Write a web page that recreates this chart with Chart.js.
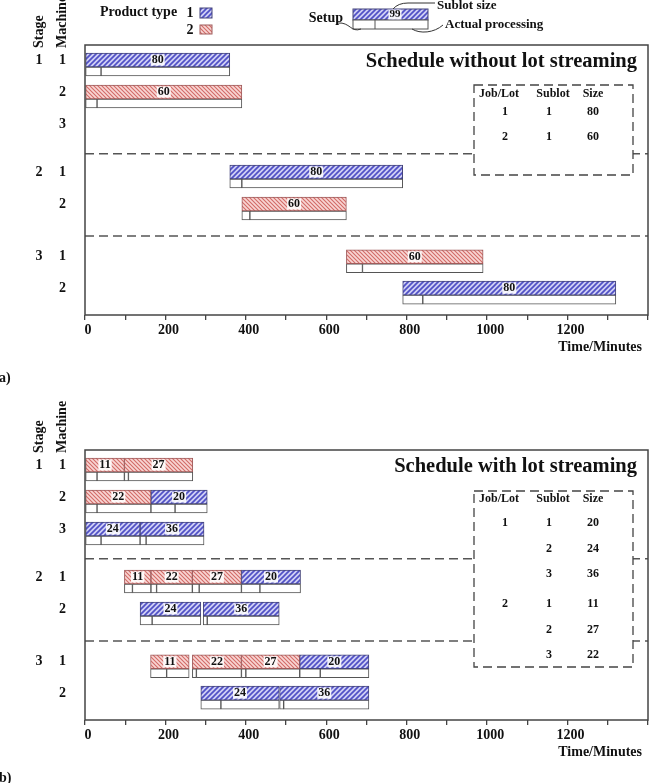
<!DOCTYPE html>
<html>
<head>
<meta charset="utf-8">
<script src="https://cdn.jsdelivr.net/npm/chart.js@4.4.0/dist/chart.umd.min.js"></script>
<style>
  body { margin: 0; background: #fff; }
  #wrap { position: relative; width: 658px; height: 783px; overflow: hidden; }
  .panel { position: absolute; left: 0; width: 658px; }
</style>
</head>
<body>
<div id="wrap">
  <div class="panel" style="top:0;height:390px"><canvas id="chartA"></canvas></div>
  <div class="panel" style="top:390px;height:393px"><canvas id="chartB"></canvas></div>
</div>
<script>
// rows (stage / machine) and where they sit on the y scale
const rowMachine = ['1', '2', '3', '1', '2', '1', '2'];
const rowStage = ['1', '', '', '2', '', '3', ''];
const rowPos = [0.47, 1.47, 2.47, 3.97, 4.97, 6.62, 7.6];
const stageBreaks = [3.4, 5.97];
const Y_MAX = 8.44;

const xTicksLabeled = [0, 200, 400, 600, 800, 1000, 1200];

// a) schedule without lot streaming
const aRow = [0, 1, 3, 4, 5, 6];
const aProduct = [1, 2, 1, 2, 2, 1];
const aSize = [80, 60, 80, 60, 60, 80];
const aStart = [0, 0, 360, 390, 650, 790];
const aSetupEnd = [40, 30, 390, 410, 690, 840];
const aEnd = [360, 390, 790, 650, 990, 1320];

// b) schedule with lot streaming
const bRow = [0, 0, 1, 1, 2, 2, 3, 3, 3, 3, 4, 4, 5, 5, 5, 5, 6, 6];
const bProduct = [2, 2, 2, 1, 1, 1, 2, 2, 2, 1, 1, 1, 2, 2, 2, 1, 1, 1];
const bSize = [11, 27, 22, 20, 24, 36, 11, 22, 27, 20, 24, 36, 11, 22, 27, 20, 24, 36];
const bStart = [0, 98, 0, 164, 0, 137, 98, 164, 267, 389, 137, 294, 163, 267, 389, 534, 288, 484];
const bSetupEnd = [30, 108, 30, 224, 40, 152, 118, 178, 284, 435, 167, 304, 203, 277, 400, 585, 338, 494];
const bEnd = [98, 268, 164, 304, 137, 296, 164, 267, 389, 536, 288, 483, 259, 389, 534, 706, 483, 706];

// sublot tables
const aTableJob = ['1', '2'];
const aTableSublot = ['1', '1'];
const aTableSize = ['80', '60'];
const bTableJob = ['1', '', '', '2', '', ''];
const bTableSublot = ['1', '2', '3', '1', '2', '3'];
const bTableSize = ['20', '24', '36', '11', '27', '22'];

const serif = '"Liberation Serif", "Times New Roman", serif';
const INK = '#111';
const FRAME = '#444';
const PLOT_H = 270;
const HATCH_PX = 14, WHITE_PX = 9;
const WHITE_SHIFT = (HATCH_PX / 2 + WHITE_PX / 2) / (PLOT_H / Y_MAX);

function hatch(bg, fg, size, dir, lw) {
  const c = document.createElement('canvas');
  c.width = size; c.height = size;
  const g = c.getContext('2d');
  g.fillStyle = bg; g.fillRect(0, 0, size, size);
  g.strokeStyle = fg; g.lineWidth = lw;
  g.beginPath();
  if (dir > 0) {
    g.moveTo(0, size); g.lineTo(size, 0);
    g.moveTo(-1, 1); g.lineTo(1, -1);
    g.moveTo(size - 1, size + 1); g.lineTo(size + 1, size - 1);
  } else {
    g.moveTo(0, 0); g.lineTo(size, size);
    g.moveTo(-1, size - 1); g.lineTo(1, size + 1);
    g.moveTo(size - 1, -1); g.lineTo(size + 1, 1);
  }
  g.stroke();
  return c.getContext('2d').createPattern(c, 'repeat');
}

const fills = { 1: hatch('#d0d0f4', '#5050c6', 5, 1, 1.7), 2: hatch('#f8d6d4', '#d26b67', 4, -1, 1.1) };
const edges = { 1: '#44447a', 2: '#a05c5c' };

function font(size) { return 'bold ' + size + 'px ' + serif; }

function label(ctx, text, x, y, size, align, bg) {
  ctx.font = font(size);
  ctx.textAlign = align || 'center';
  ctx.textBaseline = 'middle';
  if (bg) {
    const w = ctx.measureText(text).width;
    ctx.fillStyle = 'rgba(255,255,255,0.9)';
    ctx.fillRect(x - w / 2 - 1, y - size / 2 + 0.5, w + 2, size - 1);
  }
  ctx.fillStyle = INK;
  ctx.fillText(text, x, y);
}

function drawTable(ctx, t) {
  ctx.save();
  ctx.fillStyle = '#fff';
  ctx.fillRect(t.left, t.top, t.right - t.left, t.bottom - t.top);
  ctx.setLineDash([9, 5]);
  ctx.strokeStyle = FRAME; ctx.lineWidth = 1.3;
  ctx.strokeRect(t.left, t.top, t.right - t.left, t.bottom - t.top);
  ctx.setLineDash([]);
  label(ctx, 'Job/Lot', 499, t.headY, 12);
  label(ctx, 'Sublot', 553, t.headY, 12);
  label(ctx, 'Size', 593, t.headY, 12);
  t.job.forEach((j, i) => {
    const y = t.rowY[i];
    if (j) label(ctx, j, 505, y, 12);
    label(ctx, t.sublot[i], 549, y, 12);
    label(ctx, t.size[i], 593, y, 12);
  });
  ctx.restore();
}

function drawKey(ctx) {
  ctx.save();
  label(ctx, 'Product type', 100, 12, 14, 'left');
  label(ctx, '1', 190, 13, 14);
  label(ctx, '2', 190, 30, 14);
  ctx.lineWidth = 1;
  [[1, 8, 10], [2, 25, 9]].forEach(([p, y, h]) => {
    ctx.fillStyle = fills[p]; ctx.fillRect(200, y, 12, h);
    ctx.strokeStyle = edges[p]; ctx.strokeRect(200, y, 12, h);
  });
  // sample sublot
  ctx.fillStyle = fills[1]; ctx.fillRect(353, 9, 75, 11);
  ctx.strokeStyle = edges[1]; ctx.strokeRect(353, 9, 75, 11);
  ctx.fillStyle = '#fff'; ctx.fillRect(353, 20, 75, 9);
  ctx.strokeStyle = '#555'; ctx.strokeRect(353, 20, 75, 9);
  ctx.beginPath(); ctx.moveTo(375, 20); ctx.lineTo(375, 29); ctx.stroke();
  label(ctx, '99', 395, 14.5, 11, 'center', true);
  label(ctx, 'Setup', 343, 18, 14, 'right');
  label(ctx, 'Sublot size', 437, 6, 13, 'left');
  label(ctx, 'Actual processing', 445, 25, 13, 'left');
  ctx.strokeStyle = '#333'; ctx.lineWidth = 1;
  ctx.beginPath();
  ctx.moveTo(393, 9); ctx.quadraticCurveTo(398, 3, 408, 3); ctx.lineTo(435, 3);
  ctx.moveTo(338, 23); ctx.bezierCurveTo(350, 22, 351, 33, 361, 29);
  ctx.moveTo(412, 29); ctx.bezierCurveTo(420, 34, 434, 33, 443, 25);
  ctx.stroke();
  ctx.restore();
}

function makeChart(id, p) {
  const bars = [], boxes = [];
  p.row.forEach((r, i) => {
    const y = rowPos[r];
    bars.push({ x: [p.start[i], p.end[i]], y: y });
    boxes.push({ x: [p.start[i], p.setupEnd[i]], y: y + WHITE_SHIFT });
    boxes.push({ x: [p.setupEnd[i], p.end[i]], y: y + WHITE_SHIFT });
  });

  const gantt = {
    id: 'gantt',
    beforeDatasetsDraw(chart) {
      const ctx = chart.ctx, a = chart.chartArea, ys = chart.scales.y;
      ctx.save();
      ctx.setLineDash([9, 5]);
      ctx.strokeStyle = '#555'; ctx.lineWidth = 1.3;
      stageBreaks.forEach(v => {
        const py = ys.getPixelForValue(v);
        ctx.beginPath(); ctx.moveTo(a.left, py); ctx.lineTo(a.right, py); ctx.stroke();
      });
      ctx.restore();
    },
    afterDatasetsDraw(chart) {
      const ctx = chart.ctx, a = chart.chartArea, ys = chart.scales.y;
      ctx.save();
      // sublot sizes
      chart.getDatasetMeta(0).data.forEach((el, i) => {
        label(ctx, String(p.size[i]), (el.x + el.base) / 2, el.y, 12, 'center', true);
      });
      // frame
      ctx.strokeStyle = FRAME; ctx.lineWidth = 1.5;
      ctx.strokeRect(a.left, a.top, a.right - a.left, a.bottom - a.top);
      drawTable(ctx, p.table);
      // stage numbers and axis headings
      rowStage.forEach((s, i) => { if (s) label(ctx, s, 39, ys.getPixelForValue(rowPos[i]), 14); });
      [['Stage', 39], ['Machine', 62]].forEach(([t, x]) => {
        ctx.save();
        ctx.translate(x, a.top + 3);
        ctx.rotate(-Math.PI / 2);
        label(ctx, t, 0, 0, 14, 'left');
        ctx.restore();
      });
      label(ctx, p.title, a.right - 11, a.top + 17, 20.5, 'right');
      label(ctx, 'Time/Minutes', 642, a.bottom + 32, 14, 'right');
      label(ctx, p.tag, -1, p.tagY, 14, 'left');
      if (p.key) drawKey(ctx);
      ctx.restore();
    }
  };

  return new Chart(document.getElementById(id), {
    type: 'bar',
    data: {
      datasets: [{
        data: bars,
        grouped: false,
        barThickness: HATCH_PX,
        borderWidth: 1,
        borderSkipped: false,
        backgroundColor: c => fills[p.product[c.dataIndex]],
        borderColor: c => edges[p.product[c.dataIndex]]
      }, {
        data: boxes,
        grouped: false,
        barThickness: WHITE_PX,
        borderWidth: 1,
        borderSkipped: false,
        backgroundColor: '#fff',
        borderColor: '#555'
      }]
    },
    options: {
      indexAxis: 'y',
      responsive: true,
      maintainAspectRatio: false,
      animation: false,
      layout: { padding: { top: p.padTop, right: 10, bottom: p.padBottom, left: 0 } },
      plugins: { legend: { display: false }, tooltip: { enabled: false } },
      scales: {
        x: {
          type: 'linear', min: 0, max: 1400,
          afterFit: s => { s.height = 40; },
          border: { display: false },
          grid: { drawOnChartArea: false, drawTicks: true, tickLength: 5, color: FRAME, lineWidth: 1.3 },
          ticks: {
            stepSize: 100, autoSkip: false, maxRotation: 0, padding: 2, labelOffset: 3,
            color: INK, font: { family: serif, size: 14, weight: 'bold' },
            callback: v => xTicksLabeled.includes(v) ? String(v) : ''
          }
        },
        y: {
          type: 'linear', min: 0, max: Y_MAX, reverse: true, offset: false,
          afterFit: s => { s.width = 85; },
          afterBuildTicks: s => { s.ticks = rowPos.map(v => ({ value: v })); },
          border: { display: false },
          grid: { display: false, drawTicks: false, offset: false },
          ticks: {
            autoSkip: false, padding: 19, color: INK,
            font: { family: serif, size: 14, weight: 'bold' },
            callback: (v, i) => rowMachine[i]
          }
        }
      }
    },
    plugins: [gantt]
  });
}

makeChart('chartA', {
  row: aRow, product: aProduct, size: aSize, start: aStart, setupEnd: aSetupEnd, end: aEnd,
  padTop: 45, padBottom: 35, title: 'Schedule without lot streaming', tag: 'a)', tagY: 378, key: true,
  table: { left: 474, right: 633, top: 85, bottom: 175, headY: 94, rowY: [112, 137],
           job: aTableJob, sublot: aTableSublot, size: aTableSize }
});

makeChart('chartB', {
  row: bRow, product: bProduct, size: bSize, start: bStart, setupEnd: bSetupEnd, end: bEnd,
  padTop: 60, padBottom: 23, title: 'Schedule with lot streaming', tag: 'b)', tagY: 388, key: false,
  table: { left: 474, right: 633, top: 101, bottom: 277, headY: 109, rowY: [133, 159, 184, 214, 240, 265],
           job: bTableJob, sublot: bTableSublot, size: bTableSize }
});
</script>
</body>
</html>
